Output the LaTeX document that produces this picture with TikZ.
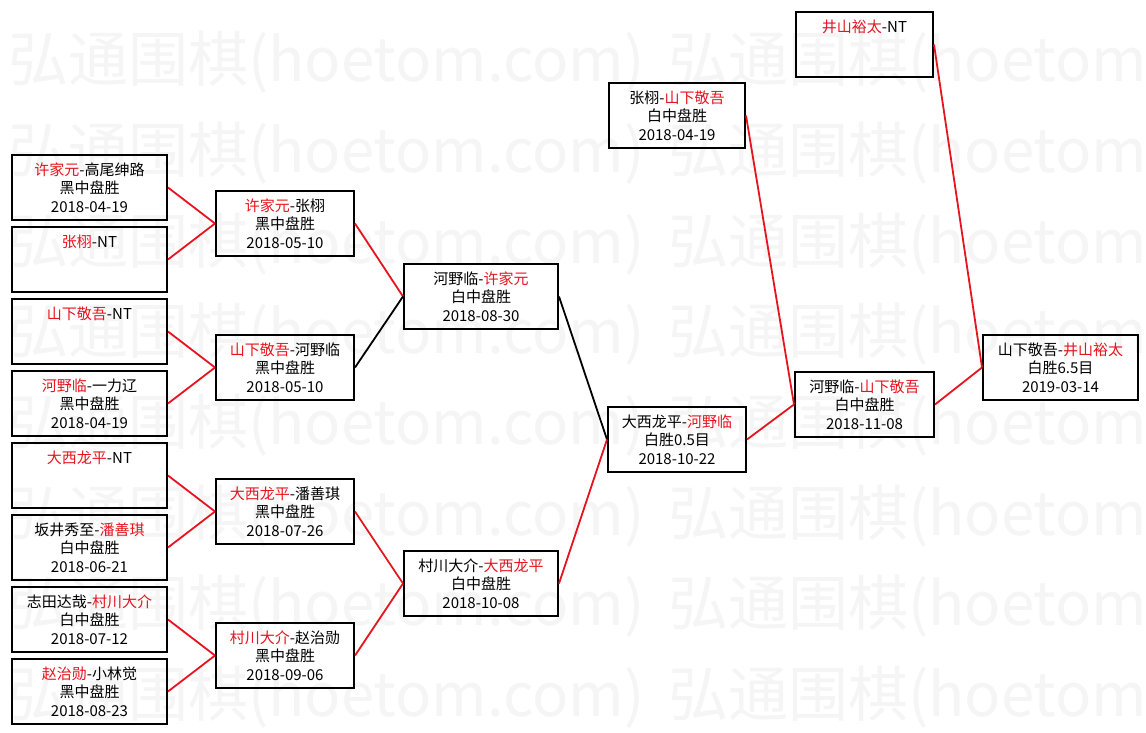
\documentclass[tikz,border=0pt]{standalone}
\usepackage{fontspec}
\setmainfont{Noto Sans CJK SC}
\definecolor{hred}{RGB}{230,20,30}
\newcommand{\rn}[1]{\textcolor{hred}{#1}}

\begin{document}
\begin{tikzpicture}[x=1pt, y=-1pt,
  game/.style={draw, line width=2pt, anchor=north west, inner sep=0pt,
    minimum height=65pt, align=center, font=\fontsize{15}{18.5}\selectfont},
  wide/.style={game, minimum width=155pt},
  slim/.style={game, minimum width=138pt},
  win/.style={draw=hred, line width=1.8pt},
  lose/.style={draw=black, line width=1.8pt},
  wmark/.style={text=black!4, anchor=west, inner sep=0pt, font=\fontsize{60}{60}\selectfont}]
\fill[white] (0,0) rectangle (1146,733);
\useasboundingbox (0,0) rectangle (1146,733);

% watermark
\foreach \y [count=\i] in {62,153,244,334,425,516,606,697} {
  \node[wmark] (wl\i) at (8,\y) {弘通围棋(hoetom.com)};
  \node[wmark] (wr\i) at (668,\y) {弘通围棋(hoetom.com)};
}

% round one
\node[wide] (a1) at (11,154) {\rn{许家元}-高尾绅路\\黑中盘胜\\2018-04-19};
\node[wide] (a2) at (11,226) {\rn{张栩}-NT\\\mbox{}\\\mbox{}};
\node[wide] (a3) at (11,298) {\rn{山下敬吾}-NT\\\mbox{}\\\mbox{}};
\node[wide] (a4) at (11,370) {\rn{河野临}-一力辽\\黑中盘胜\\2018-04-19};
\node[wide] (a5) at (11,442) {\rn{大西龙平}-NT\\\mbox{}\\\mbox{}};
\node[wide] (a6) at (11,514) {坂井秀至-\rn{潘善琪}\\白中盘胜\\2018-06-21};
\node[wide] (a7) at (11,586) {志田达哉-\rn{村川大介}\\白中盘胜\\2018-07-12};
\node[wide] (a8) at (11,658) {\rn{赵治勋}-小林觉\\黑中盘胜\\2018-08-23};

% round two
\node[slim] (b1) at (215,190) {\rn{许家元}-张栩\\黑中盘胜\\2018-05-10};
\node[slim] (b2) at (215,334) {\rn{山下敬吾}-河野临\\黑中盘胜\\2018-05-10};
\node[slim] (b3) at (215,478) {\rn{大西龙平}-潘善琪\\黑中盘胜\\2018-07-26};
\node[slim] (b4) at (215,622) {\rn{村川大介}-赵治勋\\黑中盘胜\\2018-09-06};

% round three
\node[wide, minimum width=154pt] (c1) at (403,263) {河野临-\rn{许家元}\\白中盘胜\\2018-08-30};
\node[wide, minimum width=154pt] (c2) at (403,550) {村川大介-\rn{大西龙平}\\白中盘胜\\2018-10-08};

% later rounds
\node[slim] (d1) at (607,406) {大西龙平-\rn{河野临}\\白胜0.5目\\2018-10-22};
\node[slim, minimum width=136pt] (s1) at (608,82) {张栩-\rn{山下敬吾}\\白中盘胜\\2018-04-19};
\node[slim, minimum width=139pt] (f1) at (794,371) {河野临-\rn{山下敬吾}\\白中盘胜\\2018-11-08};
\node[slim, minimum width=137pt] (t1) at (795,11) {\rn{井山裕太}-NT\\\mbox{}\\\mbox{}};
\node[wide] (g1) at (982,334) {山下敬吾-\rn{井山裕太}\\白胜6.5目\\2019-03-14};

% connectors
\draw[win] (a1.east) -- (b1.west);
\draw[win] (a2.east) -- (b1.west);
\draw[win] (a3.east) -- (b2.west);
\draw[win] (a4.east) -- (b2.west);
\draw[win] (a5.east) -- (b3.west);
\draw[win] (a6.east) -- (b3.west);
\draw[win] (a7.east) -- (b4.west);
\draw[win] (a8.east) -- (b4.west);
\draw[win] (b1.east) -- (c1.west);
\draw[lose] (b2.east) -- (c1.west);
\draw[win] (b3.east) -- (c2.west);
\draw[win] (b4.east) -- (c2.west);
\draw[lose] (c1.east) -- (d1.west);
\draw[win] (c2.east) -- (d1.west);
\draw[win] (d1.east) -- (f1.west);
\draw[win] (s1.east) -- (f1.west);
\draw[win] (f1.east) -- (g1.west);
\draw[win] (t1.east) -- (g1.west);
\end{tikzpicture}
\end{document}
